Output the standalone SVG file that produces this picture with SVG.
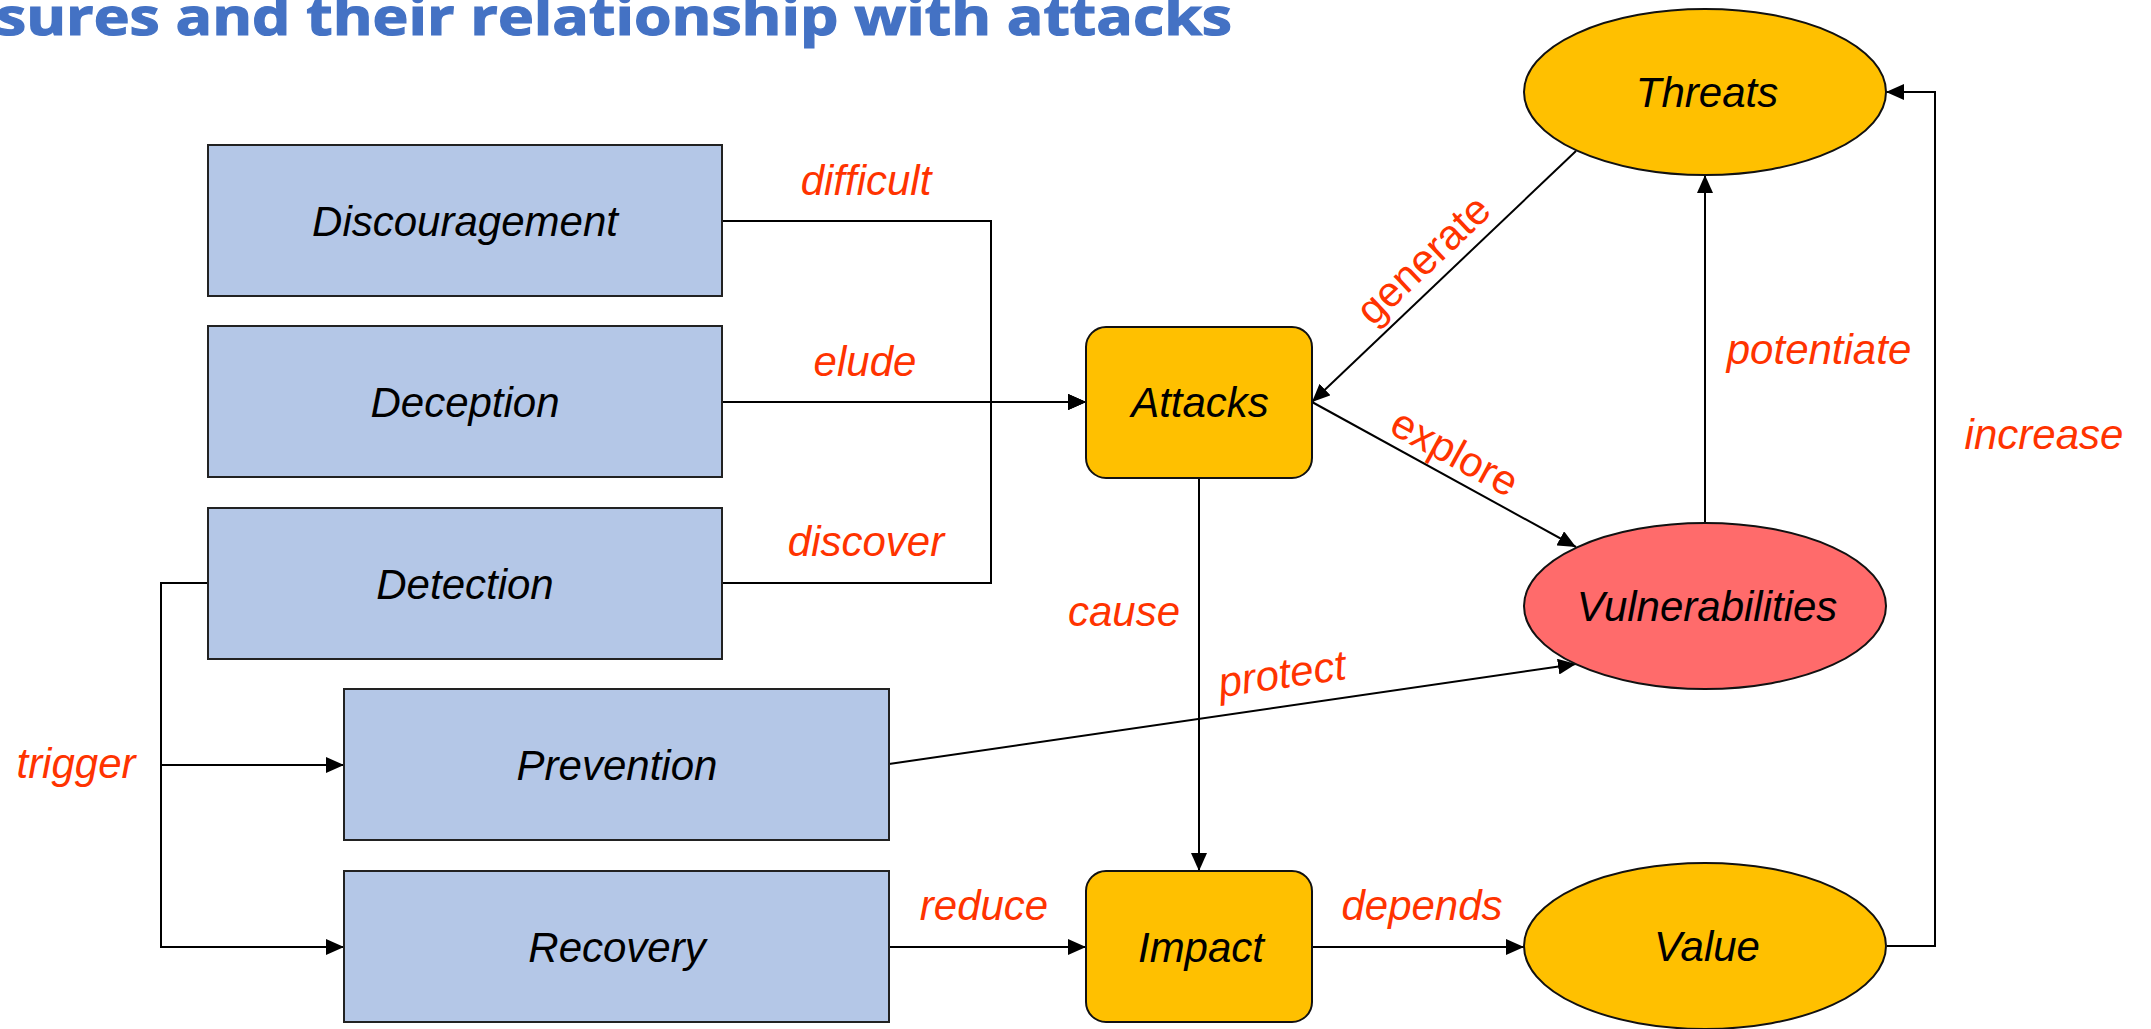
<svg xmlns="http://www.w3.org/2000/svg" width="2151" height="1029" viewBox="0 0 2151 1029">
<defs>
<style>
.box{fill:#B4C7E7;stroke:#222;stroke-width:2}
.org{fill:#FFC000;stroke:#111;stroke-width:2}
.red{fill:#FF6B6B;stroke:#111;stroke-width:2}
.nt{font-family:"Liberation Sans",Arial,sans-serif;font-style:italic;font-size:42px;fill:#000;text-anchor:middle}
.lb{font-family:"Liberation Sans",Arial,sans-serif;font-style:italic;font-size:42px;fill:#FF3300;text-anchor:middle}
.lbn{font-family:"Liberation Sans",Arial,sans-serif;font-size:42px;fill:#FF3300;text-anchor:middle}
.cn{fill:none;stroke:#000;stroke-width:2}
.title{font-family:"Open Sans",sans-serif;font-weight:bold;font-size:52px;fill:#4472C4;stroke:#4472C4;stroke-width:1.2}
</style>
<marker id="ah" markerUnits="userSpaceOnUse" markerWidth="18" markerHeight="16" refX="18" refY="8" orient="auto">
<path d="M0,0 L18,8 L0,16 z" fill="#000"/>
</marker>
</defs>
<rect width="2151" height="1029" fill="#fff"/>
<text class="title" x="-4" y="35" textLength="1236" lengthAdjust="spacingAndGlyphs">sures and their relationship with attacks</text>

<g id="connectors">
<path class="cn" d="M722,221 H991 V402 H1086" marker-end="url(#ah)"/>
<path class="cn" d="M722,402 H1086" marker-end="url(#ah)"/>
<path class="cn" d="M722,583 H991 V402 H1086" marker-end="url(#ah)"/>
<path class="cn" d="M208,583 H161 V765 H344" marker-end="url(#ah)"/>
<path class="cn" d="M208,583 H161 V947 H344" marker-end="url(#ah)"/>
<path class="cn" d="M889,764 L1576,664" marker-end="url(#ah)"/>
<path class="cn" d="M889,947 H1086" marker-end="url(#ah)"/>
<path class="cn" d="M1199,478 V871" marker-end="url(#ah)"/>
<path class="cn" d="M1312,947 H1524" marker-end="url(#ah)"/>
<path class="cn" d="M1887,946 H1935 V92 H1886" marker-end="url(#ah)"/>
<path class="cn" d="M1705,523 V175" marker-end="url(#ah)"/>
<path class="cn" d="M1576,151 L1312,402" marker-end="url(#ah)"/>
<path class="cn" d="M1312,402 L1576,547" marker-end="url(#ah)"/>
<text class="lb" x="866" y="195">difficult</text>
<text class="lb" x="865" y="376">elude</text>
<text class="lb" x="866" y="556">discover</text>
<text class="lb" x="76" y="778">trigger</text>
<text class="lb" x="984" y="920">reduce</text>
<text class="lb" x="1124" y="626">cause</text>
<text class="lb" x="1284" y="688" transform="rotate(-8.2 1284 688)">protect</text>
<text class="lb" x="1422" y="920">depends</text>
<text class="lb" x="1819" y="364">potentiate</text>
<text class="lb" x="2044" y="449">increase</text>
<text class="lbn" x="1433" y="270" transform="rotate(-43.4 1433 270)">generate</text>
<text class="lbn" x="1448" y="465" transform="rotate(28.6 1448 465)">explore</text>
</g>

<g id="discouragement"><rect class="box" x="208" y="145" width="514" height="151"/><text class="nt" x="465" y="236">Discouragement</text></g>
<g id="deception"><rect class="box" x="208" y="326" width="514" height="151"/><text class="nt" x="465" y="417">Deception</text></g>
<g id="detection"><rect class="box" x="208" y="508" width="514" height="151"/><text class="nt" x="465" y="599">Detection</text></g>
<g id="prevention"><rect class="box" x="344" y="689" width="545" height="151"/><text class="nt" x="617" y="780">Prevention</text></g>
<g id="recovery"><rect class="box" x="344" y="871" width="545" height="151"/><text class="nt" x="617" y="962">Recovery</text></g>
<g id="attacks"><rect class="org" x="1086" y="327" width="226" height="151" rx="20"/><text class="nt" x="1200" y="417">Attacks</text></g>
<g id="impact"><rect class="org" x="1086" y="871" width="226" height="151" rx="20"/><text class="nt" x="1201" y="962">Impact</text></g>
<g id="threats"><ellipse class="org" cx="1705" cy="92" rx="181" ry="83"/><text class="nt" x="1707" y="107">Threats</text></g>
<g id="vulnerabilities"><ellipse class="red" cx="1705" cy="606" rx="181" ry="83"/><text class="nt" x="1707" y="621">Vulnerabilities</text></g>
<g id="value"><ellipse class="org" cx="1705" cy="946" rx="181" ry="83"/><text class="nt" x="1707" y="961">Value</text></g>
</svg>
